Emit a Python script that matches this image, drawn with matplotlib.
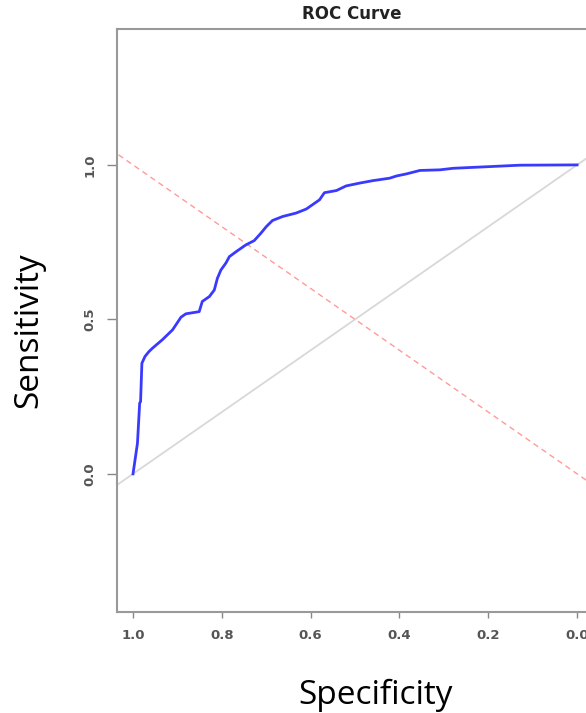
import numpy as np
import matplotlib.pyplot as plt

# ROC curve points (specificity decreasing 1 -> 0)
specificity = [1.000, 0.990, 0.985, 0.983, 0.980, 0.973, 0.964, 0.956, 0.934, 0.911,
               0.892, 0.881, 0.851, 0.844, 0.828, 0.817, 0.810, 0.802, 0.791, 0.783,
               0.768, 0.746, 0.727, 0.712, 0.700, 0.686, 0.663, 0.633, 0.610, 0.591,
               0.580, 0.569, 0.542, 0.520, 0.490, 0.460, 0.422, 0.407, 0.384, 0.354,
               0.309, 0.279, 0.204, 0.129, 0.000]
sensitivity = [0.000, 0.099, 0.229, 0.234, 0.358, 0.380, 0.396, 0.407, 0.434, 0.466,
               0.507, 0.518, 0.525, 0.558, 0.574, 0.595, 0.633, 0.660, 0.682, 0.703,
               0.719, 0.741, 0.755, 0.779, 0.800, 0.820, 0.833, 0.844, 0.857, 0.876,
               0.887, 0.910, 0.917, 0.932, 0.941, 0.949, 0.957, 0.964, 0.971, 0.982,
               0.984, 0.989, 0.994, 0.999, 1.000]

x_ticks = [1.0, 0.8, 0.6, 0.4, 0.2, 0.0]
y_ticks = [0.0, 0.5, 1.0]

fig = plt.figure(figsize=(5.86, 7.13), dpi=100)
ax = fig.add_axes([0.1997, 0.1417, 0.8003, 0.8177])

# chance line and the red dashed sens = spec line
ax.axline((1, 0), (0, 1), color='#d8d8d8', lw=1.3, zorder=1)
ax.axline((0, 0), (1, 1), color='#ff9a9a', lw=1.0, ls=(0, (4, 3)), zorder=1)

ax.plot(specificity, sensitivity, color='#3a3aff', lw=2, zorder=3)

ax.set_xlim(1.036, -0.02)
ax.set_ylim(-0.447, 1.44)

# the last x label is cut by the right edge, as in the original
ax.set_xticks(x_ticks)
ax.set_xticklabels([f"{t:.1f}" for t in x_ticks], fontsize=9.5, fontweight='bold',
                   color='#555555')
ax.set_yticks(y_ticks)
ax.set_yticklabels([f"{t:.1f}" for t in y_ticks], fontsize=9.5, fontweight='bold',
                   color='#555555', rotation=90, va='center')
ax.tick_params(axis='x', length=4, width=1, color='#888888', pad=8)
ax.tick_params(axis='y', length=7, width=1, color='#888888', pad=8)

for side in ['left', 'bottom', 'top']:
    ax.spines[side].set_color('#999999')
    ax.spines[side].set_linewidth(1.5)
ax.spines['right'].set_visible(False)

ax.set_title("ROC Curve", fontsize=12, fontweight='bold', color='#222222', pad=7)

# big axis labels (added on top of the R plot in the original)
fig.text(376 / 586, 9 / 713, "Specificity", fontsize=24, family='Open Sans',
         ha='center', va='baseline')
fig.text(29 / 586, 1 - 330 / 713, "Sensitivity", fontsize=24, family='Open Sans',
         ha='center', va='center', rotation=90)

fig.savefig('out.png', dpi=100)
